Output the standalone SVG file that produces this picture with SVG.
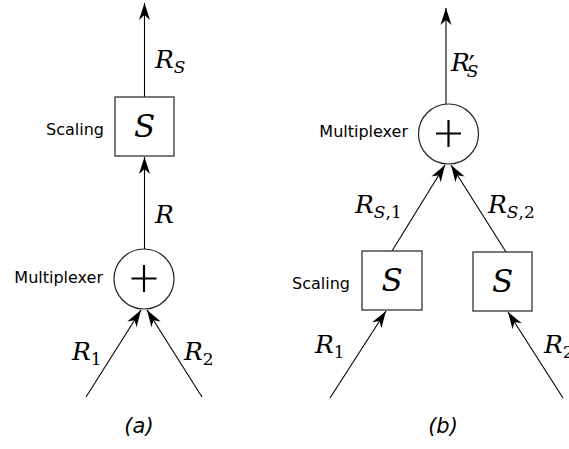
<svg xmlns="http://www.w3.org/2000/svg" width="569" height="449" viewBox="0 0 569 449">
<style>
.ln{stroke:#000;stroke-width:1.1;fill:none}
.bx{stroke:#333;stroke-width:1.3;fill:#fff}
.ci{stroke:#222;stroke-width:1.2;fill:#fff}
.pl{stroke:#000;stroke-width:2.2;fill:none}
.lbl{font-family:"DejaVu Sans",sans-serif;font-size:16px;fill:#000}
.m{font-family:"DejaVu Serif",serif;font-style:italic;font-size:25px;fill:#000}
.bs{font-family:"DejaVu Serif",serif;font-style:italic;font-size:31px;fill:#000}
.sb{font-size:17px}
.up{font-style:normal}
.cap{font-family:"DejaVu Sans",sans-serif;font-style:italic;font-size:21px;fill:#000}
</style>
<defs>
<marker id="ah" markerUnits="userSpaceOnUse" viewBox="-18 -6 19 12" markerWidth="19" markerHeight="12" refX="0" refY="0" orient="auto">
<path d="M0,0 L-17,-5.5 L-12,0 L-17,5.5 Z" fill="#000"/>
</marker>
</defs>
<g id="connectors">
<line class="ln" x1="144.5" y1="97" x2="144.5" y2="3" marker-end="url(#ah)"/>
<line class="ln" x1="144.5" y1="249" x2="144.5" y2="157" marker-end="url(#ah)"/>
<line class="ln" x1="86" y1="397" x2="141" y2="310" marker-end="url(#ah)"/>
<line class="ln" x1="202" y1="397" x2="147" y2="310" marker-end="url(#ah)"/>
<line class="ln" x1="446" y1="104" x2="446" y2="8" marker-end="url(#ah)"/>
<line class="ln" x1="392" y1="251" x2="445" y2="165" marker-end="url(#ah)"/>
<line class="ln" x1="506" y1="252" x2="451" y2="165" marker-end="url(#ah)"/>
<line class="ln" x1="330" y1="398" x2="386" y2="311" marker-end="url(#ah)"/>
<line class="ln" x1="563" y1="398" x2="508" y2="312" marker-end="url(#ah)"/>
</g>
<g id="scaling-a">
<rect class="bx" x="115" y="97" width="59" height="59"/>
<text class="bs" x="144.5" y="137" text-anchor="middle">S</text>
<text class="lbl" x="104" y="135" text-anchor="end">Scaling</text>
</g>
<g id="mux-a">
<circle class="ci" cx="144" cy="279" r="30"/>
<path class="pl" d="M131.5,278.5 H156.5 M144,265 V292"/>
<text class="lbl" x="103" y="283" text-anchor="end">Multiplexer</text>
</g>
<g id="labels-a">
<text class="m" x="155" y="68">R<tspan class="sb" dy="5">S</tspan></text>
<text class="m" x="155" y="223">R</text>
<text class="m" x="72" y="360">R<tspan class="sb up" dy="5">1</tspan></text>
<text class="m" x="184" y="360">R<tspan class="sb up" dy="5">2</tspan></text>
<text class="cap" x="139" y="433" text-anchor="middle">(a)</text>
</g>
<g id="mux-b">
<circle class="ci" cx="448.5" cy="134" r="30"/>
<path class="pl" d="M436,133.5 H461 M448.5,120 V147"/>
<text class="lbl" x="408" y="137" text-anchor="end">Multiplexer</text>
</g>
<g id="scaling-b1">
<rect class="bx" x="362" y="251" width="60" height="59"/>
<text class="bs" x="392" y="291" text-anchor="middle">S</text>
<text class="lbl" x="350" y="289" text-anchor="end">Scaling</text>
</g>
<g id="scaling-b2">
<rect class="bx" x="473" y="252" width="59" height="59"/>
<text class="bs" x="502.5" y="292" text-anchor="middle">S</text>
</g>
<g id="labels-b">
<text class="m" x="451" y="71">R<tspan class="up" font-size="26" dx="-1" dy="3">′</tspan><tspan class="sb" dx="-8" dy="3">S</tspan></text>
<text class="m" x="355" y="213">R<tspan class="sb" dy="5">S</tspan><tspan class="sb up">,1</tspan></text>
<text class="m" x="488" y="213">R<tspan class="sb" dy="5">S</tspan><tspan class="sb up">,2</tspan></text>
<text class="m" x="315" y="353">R<tspan class="sb up" dy="5">1</tspan></text>
<text class="m" x="544" y="353">R<tspan class="sb up" dy="5">2</tspan></text>
<text class="cap" x="443" y="433" text-anchor="middle">(b)</text>
</g>
</svg>
